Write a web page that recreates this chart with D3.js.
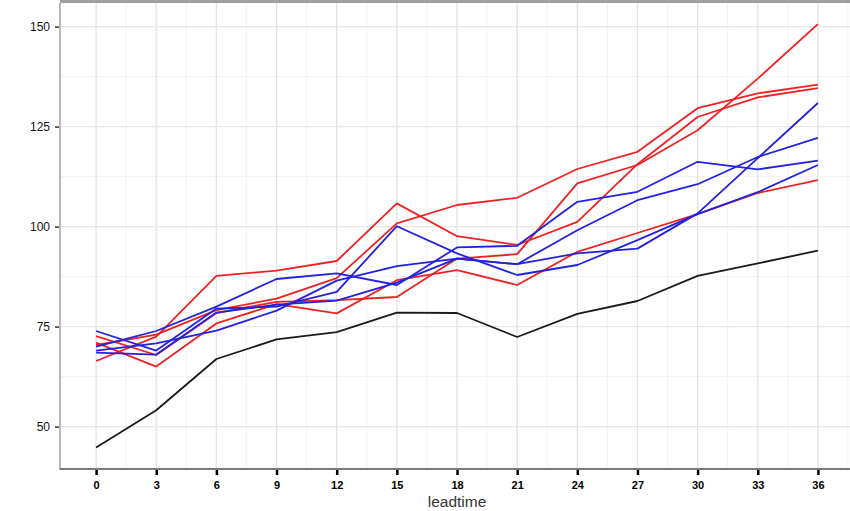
<!DOCTYPE html>
<html><head><meta charset="utf-8">
<script src="https://cdn.jsdelivr.net/npm/d3@7"></script>
<style>html,body{margin:0;padding:0;background:#fff;overflow:hidden}</style>
</head><body><svg id="c" width="850" height="511"></svg>
<script>
const leadtime = [0,3,6,9,12,15,18,21,24,27,30,33,36];
const xTicks = [0,3,6,9,12,15,18,21,24,27,30,33,36];
const yTicks = [50,75,100,125,150];
const xMinor = [1.5,4.5,7.5,10.5,13.5,16.5,19.5,22.5,25.5,28.5,31.5,34.5,37.5];
const yMinor = [62.5,87.5,112.5,137.5];

const obs = [44.8,54.1,66.9,71.8,73.6,78.5,78.4,72.4,78.2,81.4,87.7,90.8,94.0];
const redA = [70.4,73.0,79.1,82.0,87.1,100.8,105.4,107.2,114.4,118.7,129.6,133.3,135.5];
const redB = [66.4,72.5,87.7,89.0,91.4,105.8,97.6,95.4,101.2,115.6,127.4,132.3,134.6];
const redC = [72.6,67.9,78.4,81.2,81.6,82.4,92.0,93.1,110.8,115.4,124.1,137.0,150.6];
const redD = [71.0,65.0,75.8,80.6,78.3,86.6,89.1,85.4,93.7,98.4,103.1,108.4,111.6];
const blueA = [70.0,73.9,80.0,86.9,88.3,85.4,94.8,95.2,106.2,108.7,116.2,114.3,116.5];
const blueB = [73.9,69.0,79.5,80.0,83.7,100.1,93.3,87.9,90.4,96.6,103.1,108.6,115.4];
const blueC = [69.0,70.8,74.0,79.0,86.5,90.1,92.0,90.6,99.1,106.6,110.6,117.4,122.2];
const blueD = [68.5,68.0,78.5,80.5,81.5,86.0,92.0,90.6,93.3,94.5,103.3,117.1,130.9];

const series = [
  {v: redA, c: "#ee2222"}, {v: redB, c: "#ee2222"}, {v: redC, c: "#ee2222"}, {v: redD, c: "#ee2222"},
  {v: blueA, c: "#2222dd"}, {v: blueB, c: "#2222dd"}, {v: blueC, c: "#2222dd"}, {v: blueD, c: "#2222dd"},
  {v: obs, c: "#1a1a1a"}
];

const svg = d3.select("#c");
const L = 60, R = 854, T = 3, B = 469;
const x = d3.scaleLinear().domain([-1.8, 37.8]).range([L, R]);
const y = d3.scaleLinear().domain([39.4, 155.9]).range([B, T]);

// panel background
svg.append("rect").attr("x", L).attr("y", T).attr("width", R - L).attr("height", B - T).attr("fill", "#fff");

const g = svg.append("g");
// minor grid
g.selectAll(".vmin").data(xMinor).join("line")
  .attr("x1", d => x(d)).attr("x2", d => x(d)).attr("y1", T).attr("y2", B)
  .attr("stroke", "#f2f2f2").attr("stroke-width", 1);
g.selectAll(".hmin").data(yMinor).join("line")
  .attr("y1", d => y(d)).attr("y2", d => y(d)).attr("x1", L).attr("x2", R)
  .attr("stroke", "#f2f2f2").attr("stroke-width", 1);
// major grid
g.selectAll(".vmaj").data(xTicks).join("line")
  .attr("x1", d => x(d)).attr("x2", d => x(d)).attr("y1", T).attr("y2", B)
  .attr("stroke", "#e3e3e3").attr("stroke-width", 1.3);
g.selectAll(".hmaj").data(yTicks).join("line")
  .attr("y1", d => y(d)).attr("y2", d => y(d)).attr("x1", L).attr("x2", R)
  .attr("stroke", "#e8e8e8").attr("stroke-width", 1.3);

// top border
svg.append("line").attr("x1", L).attr("x2", 850).attr("y1", 1.5).attr("y2", 1.5)
  .attr("stroke", "#a0a0a0").attr("stroke-width", 3);

// lines
const line = d3.line().x((d, i) => x(leadtime[i])).y(d => y(d));
svg.append("g").selectAll("path").data(series).join("path")
  .attr("d", d => line(d.v)).attr("fill", "none")
  .attr("stroke", d => d.c).attr("stroke-width", 1.8).attr("stroke-linejoin", "round");

// axes lines
svg.append("line").attr("x1", L).attr("x2", L).attr("y1", T).attr("y2", B + 1)
  .attr("stroke", "#8a8a8a").attr("stroke-width", 1.2);
svg.append("line").attr("x1", L).attr("x2", 850).attr("y1", B).attr("y2", B)
  .attr("stroke", "#7a7a7a").attr("stroke-width", 2);

// x axis
const xAxis = d3.axisBottom(x).tickValues(xTicks).tickSize(5).tickPadding(6).tickFormat(d3.format("d"));
const xa = svg.append("g").attr("transform", `translate(0,${B + 1})`).call(xAxis);
xa.select(".domain").remove();
xa.selectAll(".tick line").attr("stroke", "#000").attr("stroke-width", 2.5);
xa.selectAll(".tick text").attr("font-family", "Liberation Sans, Arial, sans-serif")
  .attr("font-size", 11).attr("font-weight", "bold").attr("fill", "#000");

// y axis
const yAxis = d3.axisLeft(y).tickValues(yTicks).tickSize(4).tickPadding(5);
const ya = svg.append("g").attr("transform", `translate(${L - 1},0)`).call(yAxis);
ya.select(".domain").remove();
ya.selectAll(".tick line").attr("stroke", "#333").attr("stroke-width", 1.5);
ya.selectAll(".tick text").attr("font-family", "Liberation Sans, Arial, sans-serif")
  .attr("font-size", 12).attr("fill", "#111");

// x label
svg.append("text").attr("x", (L + R) / 2).attr("y", 507).attr("text-anchor", "middle")
  .attr("font-family", "Liberation Sans, Arial, sans-serif").attr("font-size", 15.5)
  .attr("fill", "#333").text("leadtime");
</script></body></html>
